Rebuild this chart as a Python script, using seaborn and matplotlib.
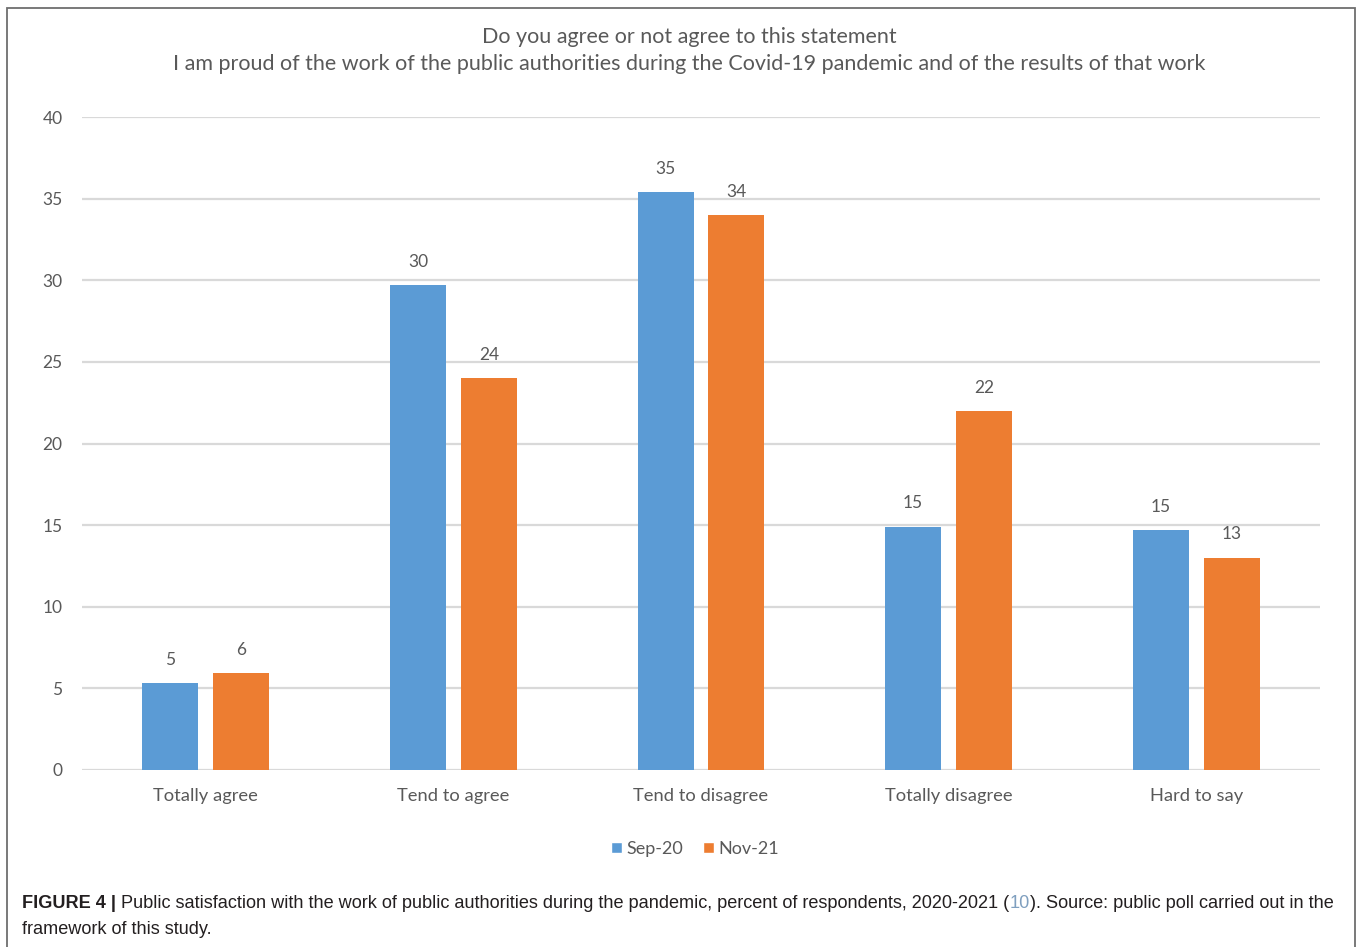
import matplotlib
matplotlib.use("Agg")
import matplotlib.pyplot as plt
from matplotlib.patches import Patch, Rectangle
import pandas as pd
import seaborn as sns

# Survey answers and the share of respondents (%) in each wave
categories = ["Totally agree", "Tend to agree", "Tend to disagree", "Totally disagree", "Hard to say"]
sep20 = [5.3, 29.7, 35.4, 14.9, 14.7]
nov21 = [5.95, 24.0, 34.0, 22.0, 13.0]
series = ["Sep-20", "Nov-21"]
yticks = [0, 5, 10, 15, 20, 25, 30, 35, 40]

title_lines = [
    "Do you agree or not agree to this statement",
    "I am proud of the work of the public authorities during the Covid-19 pandemic and of the results of that work",
]

df = pd.DataFrame({
    "answer": categories * 2,
    "wave": [series[0]] * len(categories) + [series[1]] * len(categories),
    "share": sep20 + nov21,
})

BLUE = "#5B9BD5"
ORANGE = "#ED7D31"
TXT = "#595959"
GRID = "#D9D9D9"

sns.set_theme(style="white")
plt.rcParams["font.family"] = ["Lato", "DejaVu Sans"]

W, H = 1360, 947
fig = plt.figure(figsize=(W / 100, H / 100), dpi=100)
ax = fig.add_axes([82 / W, 1 - 770 / H, (1320 - 82) / W, (770 - 117) / H])

sns.barplot(data=df, x="answer", y="share", hue="wave", order=categories,
            hue_order=series, palette=[BLUE, ORANGE], width=0.573, gap=0.21,
            linewidth=0, saturation=1, ax=ax, legend=False)

ax.set_xlim(-0.5, len(categories) - 0.5)
ax.set_ylim(0, 40)
ax.set_yticks(yticks)
ax.set_yticklabels([str(t) for t in yticks])
for t in yticks:
    ax.axhline(t, color=GRID, lw=1.6, zorder=0)
ax.set_axisbelow(True)
for s in ax.spines.values():
    s.set_visible(False)
ax.set_xlabel("")
ax.set_ylabel("")
ax.tick_params(axis="y", length=0, pad=14, labelsize=12.5, labelcolor=TXT)
ax.tick_params(axis="x", length=0, pad=13, labelsize=13.2, labelcolor=TXT)

for cont, vals in zip(ax.containers, [sep20, nov21]):
    ax.bar_label(cont, labels=[f"{v:.0f}" for v in vals], padding=11,
                 fontsize=12.5, color=TXT)

# Title
fig.text(689 / W, 1 - 37 / H, title_lines[0], ha="center", va="center",
         fontsize=15.45, color=TXT)
fig.text(689 / W, 1 - 64 / H, title_lines[1], ha="center", va="center",
         fontsize=15.45, color=TXT)

# Legend
handles = [Patch(facecolor=BLUE, label=series[0]), Patch(facecolor=ORANGE, label=series[1])]
fig.legend(handles=handles, loc="center", bbox_to_anchor=(695 / W, 1 - 849 / H),
           ncol=2, frameon=False, fontsize=13, handlelength=0.6, handleheight=0.6,
           handletextpad=0.25, columnspacing=1.1, labelcolor=TXT)

# Frame around the figure panel
fig.patches.append(Rectangle((7 / W, -0.02), (1355 - 7) / W, 1.02 - 8 / H,
                             transform=fig.transFigure, fill=False,
                             edgecolor="#6e6e6e", lw=1.3))

# Caption with bold lead-in and a coloured citation number
cap_font = ["Liberation Sans", "DejaVu Sans"]
cap_size = 13.1
cap_col = "#231f20"
pieces = [
    ("FIGURE 4 | ", "bold", cap_col),
    ("Public satisfaction with the work of public authorities during the pandemic, percent of respondents, 2020-2021 (", "normal", cap_col),
    ("10", "normal", "#7f9fbf"),
    ("). Source: public poll carried out in the", "normal", cap_col),
]
fig.canvas.draw()
renderer = fig.canvas.get_renderer()
x = 22 / W
y1 = 1 - 903 / H
for txt, weight, col in pieces:
    t = fig.text(x, y1, txt, ha="left", va="center", fontsize=cap_size,
                 fontweight=weight, color=col, family=cap_font)
    bb = t.get_window_extent(renderer=renderer)
    x = bb.x1 / W
fig.text(22 / W, 1 - 929 / H, "framework of this study.", ha="left", va="center",
         fontsize=cap_size, color=cap_col, family=cap_font)

fig.savefig("out.png", dpi=100)
